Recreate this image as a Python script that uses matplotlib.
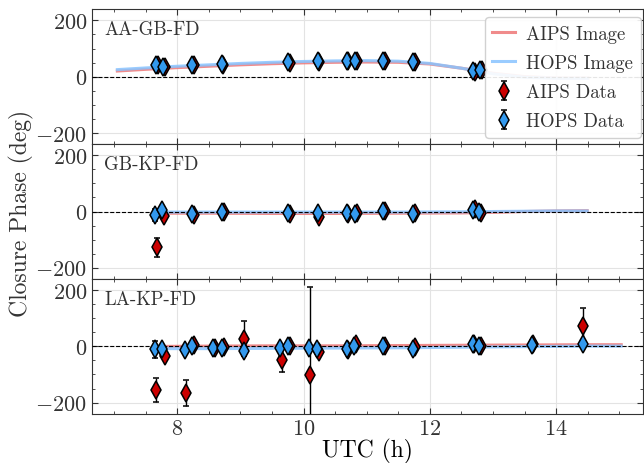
import matplotlib
matplotlib.use("Agg")
import matplotlib.pyplot as plt
from matplotlib.ticker import MultipleLocator

plt.rcParams["font.family"] = "serif"
plt.rcParams["font.serif"] = ["cmr10"]
plt.rcParams["mathtext.fontset"] = "cm"
plt.rcParams["axes.formatter.use_mathtext"] = True
plt.rcParams["text.color"] = "#333333"
plt.rcParams["xtick.labelcolor"] = "#333333"
plt.rcParams["ytick.labelcolor"] = "#333333"
plt.rcParams["axes.edgecolor"] = "#333333"

# ── data ────────────────────────────────────────────
triangles = ["AA-GB-FD", "GB-KP-FD", "LA-KP-FD"]

# AA-GB-FD
t1_hops = [7.66, 7.77, 8.24, 8.70, 9.75, 10.22, 10.68, 10.81, 11.26, 11.74, 12.68, 12.79]
t1_aips = [7.69, 7.80, 8.27, 8.73, 9.78, 10.25, 10.71, 10.84, 11.29, 11.77, 12.71, 12.82]
cp1_hops = [42, 36, 42, 44, 53, 55, 56, 57, 57, 53, 19, 23]
cp1_aips = [40, 33, 40, 42, 50, 53, 55, 55, 55, 52, 18, 22]
err1_hops = [5, 5, 4, 4, 4, 4, 4, 4, 4, 4, 5, 5]
err1_aips = [6, 6, 5, 5, 5, 5, 5, 5, 5, 5, 6, 6]

# GB-KP-FD
t2_hops = [7.65, 7.76, 8.24, 8.71, 9.75, 10.22, 10.68, 10.81, 11.26, 11.73, 12.68, 12.78]
t2_aips = [7.68, 7.79, 8.27, 8.74, 9.78, 10.25, 10.71, 10.84, 11.29, 11.76, 12.71, 12.81]
cp2_hops = [-12, 4, -9, -2, -5, -5, -5, -9, 1, -8, 6, -2]
cp2_aips = [-128, -15, -12, 0, -10, -20, -10, -5, 3, -5, 9, -5]
err2_hops = [20, 8, 5, 4, 4, 4, 4, 5, 4, 4, 6, 5]
err2_aips = [34, 8, 6, 5, 5, 6, 5, 5, 5, 5, 10, 6]

# LA-KP-FD
t3_hops = [7.65, 7.76, 8.12, 8.23, 8.57, 8.71, 9.05, 9.63, 9.75, 10.09, 10.21,
           10.68, 10.80, 11.26, 11.73, 12.68, 12.78, 13.61, 14.42]
t3_aips = [7.66, 7.80, 8.13, 8.26, 8.60, 8.74, 9.05, 9.65, 9.78, 10.10, 10.24,
           10.71, 10.83, 11.29, 11.76, 12.70, 12.81, 13.64, 14.43]
cp3_hops = [-11, -11, -13, 0, -4, -4, -16, -4, 0, -6, -8, -11, 0, 0, -8, 8, 0, 6, 10]
cp3_aips = [-155, -33, -167, 5, -5, -2, 28, -47, 0, -102, -21, -12, 10, 0, -3, 8, 0, 8, 73]
err3_hops = [30, 6, 6, 5, 5, 5, 17, 5, 5, 6, 6, 6, 5, 5, 5, 10, 5, 6, 8]
err3_aips = [42, 8, 46, 6, 5, 5, 61, 43, 5, 314, 12, 6, 6, 5, 5, 12, 6, 6, 64]

# image (model) closure phases
tm1 = [7.05, 7.5, 8.0, 8.5, 9.0, 9.5, 10.0, 10.5, 11.0, 11.5, 12.0, 12.5, 13.0, 13.5, 14.0, 14.5]
img1_aips = [20, 26, 32, 37, 42, 46, 49, 51, 52, 51, 45, 30, 12, 0, -5, -5]
img1_hops = [25, 31, 37, 42, 47, 51, 54, 56, 57, 55, 47, 30, 10, -2, -6, -6]

tm2 = [7.78, 8.5, 9.5, 10.5, 11.5, 12.5, 13.0, 13.5, 14.0, 14.49]
img2_aips = [-6, -6, -7, -7, -6, -5, -3, 0, 2, 3]
img2_hops = [-2, -2, -2, -2, -2, -1, 0, 1, 2, 2]

tm3 = [7.81, 8.5, 9.5, 10.5, 11.5, 12.5, 13.5, 14.5, 15.03]
img3_aips = [0, 1, 2, 2, 3, 4, 5, 6, 6]
img3_hops = [-8, -8, -7, -6, -5, -3, -1, 1, 1]

panels = [
    (t1_aips, cp1_aips, err1_aips, t1_hops, cp1_hops, err1_hops, tm1, img1_aips, img1_hops),
    (t2_aips, cp2_aips, err2_aips, t2_hops, cp2_hops, err2_hops, tm2, img2_aips, img2_hops),
    (t3_aips, cp3_aips, err3_aips, t3_hops, cp3_hops, err3_hops, tm3, img3_aips, img3_hops),
]

AIPS_C = "#cc0000"
HOPS_C = "#3399ee"

fig, axes = plt.subplots(3, 1, figsize=(6.44, 4.64), dpi=100, sharex=True)
fig.subplots_adjust(left=0.143, right=0.998, top=0.978, bottom=0.106, hspace=0)

for ax, name, (ta, ca, ea, th, ch, eh, tm, ia, ih) in zip(axes, triangles, panels):
    ax.grid(True, color="#e3e3e3", linewidth=0.8, zorder=0)
    ax.plot(tm, ia, color="#ee7777", alpha=0.85, lw=2.2, label="AIPS Image", zorder=2)
    ax.plot(tm, ih, color="#88c4ff", alpha=0.85, lw=2.2, label="HOPS Image", zorder=2)
    ax.axhline(0, color="black", linestyle="--", linewidth=0.8, zorder=3)
    ax.errorbar(ta, ca, yerr=ea, fmt="d", color=AIPS_C, ecolor="black", mec="black",
                mew=1.1, ms=9, elinewidth=1, capsize=2.5, label="AIPS Data", zorder=4)
    ax.errorbar(th, ch, yerr=eh, fmt="d", color=HOPS_C, ecolor="black", mec="black",
                mew=1.1, ms=9, elinewidth=1, capsize=2.5, label="HOPS Data", zorder=5)
    ax.text(0.022, 0.85, name, transform=ax.transAxes, fontsize=13.5, va="center")
    ax.set_ylim(-240, 240)
    ax.set_yticks([-200, 0, 200])
    ax.yaxis.set_minor_locator(MultipleLocator(50))
    ax.xaxis.set_minor_locator(MultipleLocator(0.5))
    ax.tick_params(which="both", direction="in", top=True, right=True, labelsize=16,
                   color="#333333")
    ax.tick_params(which="major", length=4)
    ax.tick_params(which="minor", length=2)

axes[-1].set_xlim(6.65, 15.37)
axes[-1].set_xticks([8, 10, 12, 14])
axes[-1].set_xlabel("UTC (h)", fontsize=17, labelpad=0)
fig.text(0.034, 0.54, "Closure Phase (deg)", rotation=90, fontsize=17, va="center", ha="center")

axes[0].legend(loc="upper right", bbox_to_anchor=(0.996, 0.94), borderaxespad=0,
               fontsize=13.5, framealpha=0.9, handlelength=1.2, borderpad=0.4,
               labelspacing=0.6, handletextpad=0.6)

fig.savefig("out.png", dpi=100)
